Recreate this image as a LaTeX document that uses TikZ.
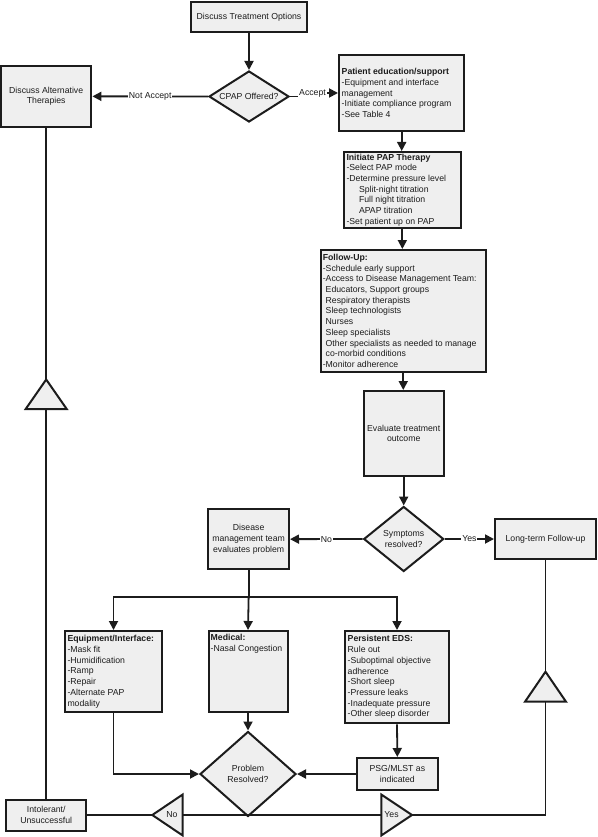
\documentclass[tikz,border=0pt]{standalone}
\usepackage{fontspec}
\setmainfont{Liberation Sans}
\usetikzlibrary{arrows.meta,shapes.geometric,calc}
\definecolor{boxfill}{RGB}{239,239,239}
\definecolor{ink}{RGB}{28,28,28}
\begin{document}
\begin{tikzpicture}[x=1pt,y=-1pt,
  every node/.style={font=\fontsize{8.7}{10.7}\selectfont, text=ink},
  box/.style={draw=ink, line width=2pt, fill=boxfill, rectangle, inner sep=0pt},
  txt/.style={align=left, inner sep=0pt},
  ctxt/.style={align=center, inner sep=0pt},
  dia/.style={draw=ink, line width=2pt, fill=boxfill, diamond, inner sep=0pt, align=center},
  conn/.style={draw=ink, line width=1.8pt},
  arr/.style={conn, -{Triangle[length=9pt,width=9pt]}},
  lbl/.style={fill=white, inner sep=1pt},
  tri/.style={draw=ink, line width=2pt, fill=boxfill, line join=miter}
]
\useasboundingbox (0,0) rectangle (597,837);

% ---------- boxes ----------
\node[box, minimum width=116, minimum height=30] (treat) at (249,17) {};
\node[ctxt] (treatT) at (treat.center) {Discuss Treatment Options};

\node[dia, aspect=1.57, minimum width=80, minimum height=51] (cpap) at (249,96.5) {CPAP Offered?};

\node[box, minimum width=90.4, minimum height=60.7] (alt) at (46.2,96.35) {};
\node[ctxt] (altT) at (alt.center) {Discuss Alternative\\Therapies};

\node[box, minimum width=125.4, minimum height=76] (pat) at (401.7,93) {};
\node[txt, anchor=west] (patT) at ($(pat.west)+(3.5,0)$) {\textbf{Patient education/support}\\-Equipment and interface\\management\\-Initiate compliance program\\-See Table 4};

\node[box, minimum width=116.7, minimum height=75.7] (init) at (402.35,189.85) {};
\node[txt, anchor=west] (initT) at ($(init.west)+(3.3,0)$) {\textbf{Initiate PAP Therapy}\\-Select PAP mode\\-Determine pressure level\\\hspace*{12.5pt}Split-night titration\\\hspace*{12.5pt}Full night titration\\\hspace*{12.5pt}APAP titration\\-Set patient up on PAP};

\node[box, minimum width=164.5, minimum height=121.6] (fol) at (403.25,310.8) {};
\node[txt, anchor=west] (folT) at ($(fol.west)+(2.6,0)$) {\textbf{Follow-Up:}\\-Schedule early support\\-Access to Disease Management Team:\\\hphantom{-}Educators, Support groups\\\hphantom{-}Respiratory therapists\\\hphantom{-}Sleep technologists\\\hphantom{-}Nurses\\\hphantom{-}Sleep specialists\\\hphantom{-}Other specialists as needed to manage\\\hphantom{-}co-morbid conditions\\-Monitor adherence};

\node[box, minimum width=80, minimum height=85] (eval) at (403.7,433.5) {};
\node[ctxt] (evalT) at (eval.center) {Evaluate treatment\\outcome};

\node[dia, aspect=1.23, minimum width=80, minimum height=65] (sym) at (403.7,539) {Symptoms\\resolved?};

\node[box, minimum width=80.7, minimum height=60.3] (dis) at (248.65,539.15) {};
\node[ctxt] (disT) at (dis.center) {Disease\\management team\\evaluates problem};

\node[box, minimum width=101, minimum height=40] (lt) at (545.5,539) {};
\node[ctxt] (ltT) at (lt.center) {Long-term Follow-up};

\node[box, minimum width=96.4, minimum height=81.3] (equip) at (113.5,671.65) {};
\node[txt, anchor=west] (equipT) at ($(equip.west)+(3,0)$) {\textbf{Equipment/Interface:}\\-Mask fit\\-Humidification\\-Ramp\\-Repair\\-Alternate PAP\\modality};

\node[box, minimum width=79, minimum height=81.3] (med) at (248,671.65) {};
\node[txt, anchor=north west] (medT) at ($(med.north west)+(3,4)$) {\textbf{Medical:}\\-Nasal Congestion};

\node[box, minimum width=103.4, minimum height=92.3] (pers) at (397,677.15) {};
\node[txt, anchor=west] (persT) at ($(pers.west)+(3.2,0)$) {\textbf{Persistent EDS:}\\Rule out\\-Suboptimal objective\\adherence\\-Short sleep\\-Pressure leaks\\-Inadequate pressure\\-Other sleep disorder};

\node[box, minimum width=80.7, minimum height=32] (psg) at (397.35,774) {};
\node[ctxt] (psgT) at (psg.center) {PSG/MLST as\\indicated};

\node[dia, aspect=1.13, minimum width=96, minimum height=85] (prob) at (248,774) {Problem\\Resolved?};

\node[box, minimum width=80.5, minimum height=31] (intol) at (46.2,815) {};
\node[ctxt] (intolT) at (intol.center) {Intolerant/\\Unsuccessful};

% ---------- coordinates ----------
\coordinate (tLt) at (46.2,379.5);
\coordinate (tLa) at (25.7,409);
\coordinate (tLb) at (66.7,409);
\coordinate (tLc) at (46.2,409);

\coordinate (tRt) at (545.5,671.7);
\coordinate (tRa) at (525,701.7);
\coordinate (tRb) at (566,701.7);
\coordinate (tRc) at (545.5,701.7);
\coordinate (corner) at (545.5,815);

\coordinate (tNt) at (152.3,815);
\coordinate (tNa) at (182.7,794.5);
\coordinate (tNb) at (182.7,835.5);
\coordinate (tNc) at (182.7,815);

\coordinate (tYt) at (412,815);
\coordinate (tYa) at (381.3,794.5);
\coordinate (tYb) at (381.3,835.5);
\coordinate (tYc) at (381.3,815);

\coordinate (br) at (248.65,596.7);

% ---------- connectors ----------
\draw[arr] (treat.south) -- (cpap.north);
\draw[arr] (cpap.west) -- node[lbl] (nacc) {Not Accept} (alt.east);
\node[lbl] (acc) at (312.5,93) {Accept};
\draw[conn] (cpap.east) -- (cpap.east -| acc.west);
\draw[arr] (acc.east) -- (pat.west);
\draw[arr] (pat.south) -- (pat.south |- init.north);
\draw[arr] (init.south) -- (init.south |- fol.north);
\draw[arr] (fol.south) -- (fol.south |- eval.north);
\draw[arr] (eval.south) -- (sym.north);
\draw[arr] (sym.west) -- node[lbl] (noS) {No} (dis.east);
\draw[arr] (sym.east) -- node[lbl] (yesS) {Yes} (lt.west);

\draw[conn] (dis.south) -- (br);
\draw[arr] (br) -- (med.north);
\draw[arr] (br) -| (equip.north);
\draw[arr] (br) -| (pers.north);

\draw[arr] (equip.south) |- (prob.west);
\draw[arr] (med.south) -- (prob.north);
\draw[arr] (pers.south) -- (psg.north);
\draw[arr] (psg.west) -- (prob.east);

\draw[conn] (intol.east) -- (tNt);
\draw[conn] (tNc) -- (tYc);
\draw[conn] (tYt) -- (corner) -- (tRc);
\draw[conn] (tRt) -- (lt.south);
\draw[conn] (intol.north) -- (tLc);
\draw[conn] (tLt) -- (alt.south);

% ---------- triangles ----------
\draw[tri] (tLt) -- (tLa) -- (tLb) -- cycle;
\draw[tri] (tRt) -- (tRa) -- (tRb) -- cycle;
\draw[tri] (tNt) -- (tNa) -- (tNb) -- cycle;
\draw[tri] (tYt) -- (tYa) -- (tYb) -- cycle;
\node[ctxt] (noT) at (172,815) {No};
\node[ctxt] (yesT) at (391.5,815) {Yes};
\end{tikzpicture}
\end{document}
